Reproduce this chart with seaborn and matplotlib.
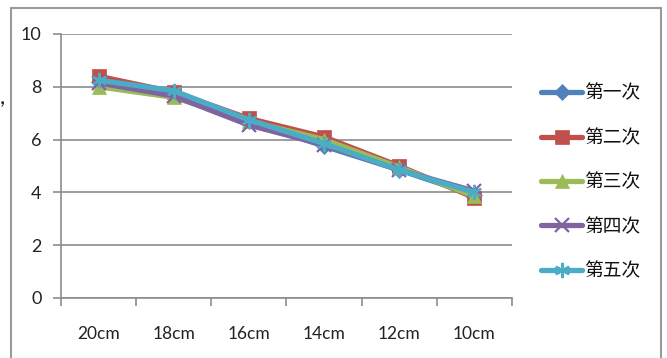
import matplotlib
matplotlib.use("Agg")
import matplotlib.pyplot as plt
import seaborn as sns
import pandas as pd
import numpy as np
from matplotlib.patches import Rectangle
from matplotlib.ticker import FixedLocator

categories = ["20cm", "18cm", "16cm", "14cm", "12cm", "10cm"]
series_names = ["第一次", "第二次", "第三次", "第四次", "第五次"]
s1 = [8.20, 7.75, 6.70, 5.75, 4.85, 3.90]
s2 = [8.40, 7.80, 6.80, 6.10, 5.00, 3.80]
s3 = [8.00, 7.60, 6.70, 6.00, 4.95, 3.85]
s4 = [8.15, 7.65, 6.55, 5.80, 4.85, 4.05]
s5 = [8.25, 7.85, 6.75, 5.85, 4.85, 4.00]
yticks = [0, 2, 4, 6, 8, 10]

colors = ["#4F81BD", "#C0504D", "#9BBB59", "#8064A2", "#4BACC6"]
markers = ["D", "s", "^", "x", (6, 2, 0)]
msizes = [8, 10.5, 10.5, 10, 11]

sns.set_theme(style="white")
plt.rcParams["font.family"] = ["Lato", "Noto Sans CJK SC", "DejaVu Sans"]

rows = []
for name, vals in zip(series_names, [s1, s2, s3, s4, s5]):
    for c, v in zip(categories, vals):
        rows.append({"cat": c, "val": v, "series": name})
df = pd.DataFrame(rows)

fig = plt.figure(figsize=(6.67, 3.58), dpi=100)
ax = fig.add_axes([61/667, 1 - 298/358, (512-61)/667, (298-34)/358])

for i, name in enumerate(series_names):
    sub = df[df["series"] == name]
    sns.lineplot(data=sub, x="cat", y="val", ax=ax, color=colors[i],
                 marker=markers[i], markersize=msizes[i], linewidth=3.8,
                 markeredgecolor=colors[i], markeredgewidth=1.6 if i >= 3 else 0.5,
                 label=name, sort=False)

ax.set_xlim(-0.5, 5.5)
ax.set_ylim(0, 10)
ax.set_yticks(yticks)
ax.set_xticks(range(len(categories)))
ax.set_xticklabels(categories)
ax.xaxis.set_minor_locator(FixedLocator(np.arange(-0.5, 6.0, 1.0)))
ax.set_xlabel("")
ax.set_ylabel("")
ax.grid(axis="y", color="#8C8C8C", linewidth=1.2)
ax.set_axisbelow(True)
for sp in ["top", "right"]:
    ax.spines[sp].set_visible(False)
for sp in ["left", "bottom"]:
    ax.spines[sp].set_visible(True)
    ax.spines[sp].set_color("#8C8C8C")
    ax.spines[sp].set_linewidth(1.2)
ax.tick_params(axis="y", which="major", direction="out", length=6, width=1.2,
               color="#8C8C8C", left=True, labelsize=13, pad=8, labelcolor="#222222")
ax.tick_params(axis="x", which="major", length=0, labelsize=12.5, pad=20, labelcolor="#222222")
ax.tick_params(axis="x", which="minor", direction="out", length=6, width=1.2,
               color="#8C8C8C", bottom=True)

leg = ax.legend(loc="center left", bbox_to_anchor=(541/667, 1 - 182/358),
                bbox_transform=fig.transFigure, frameon=False,
                prop={"family": ["Noto Sans CJK SC"], "size": 13.5},
                handlelength=2.2, handletextpad=0.1, labelspacing=1.25,
                borderpad=0, borderaxespad=0)
for t in leg.get_texts():
    t.set_color("#111111")

fig.patches.append(Rectangle((11/667, -0.05), (661-11)/667, 1 - 8/358 + 0.05,
                             transform=fig.transFigure, fill=False,
                             edgecolor="#9A9A9A", linewidth=1.5))
fig.text(0/667, 1 - 104/358, ",", fontsize=16, color="#222222")

fig.savefig("out.png", dpi=100)
